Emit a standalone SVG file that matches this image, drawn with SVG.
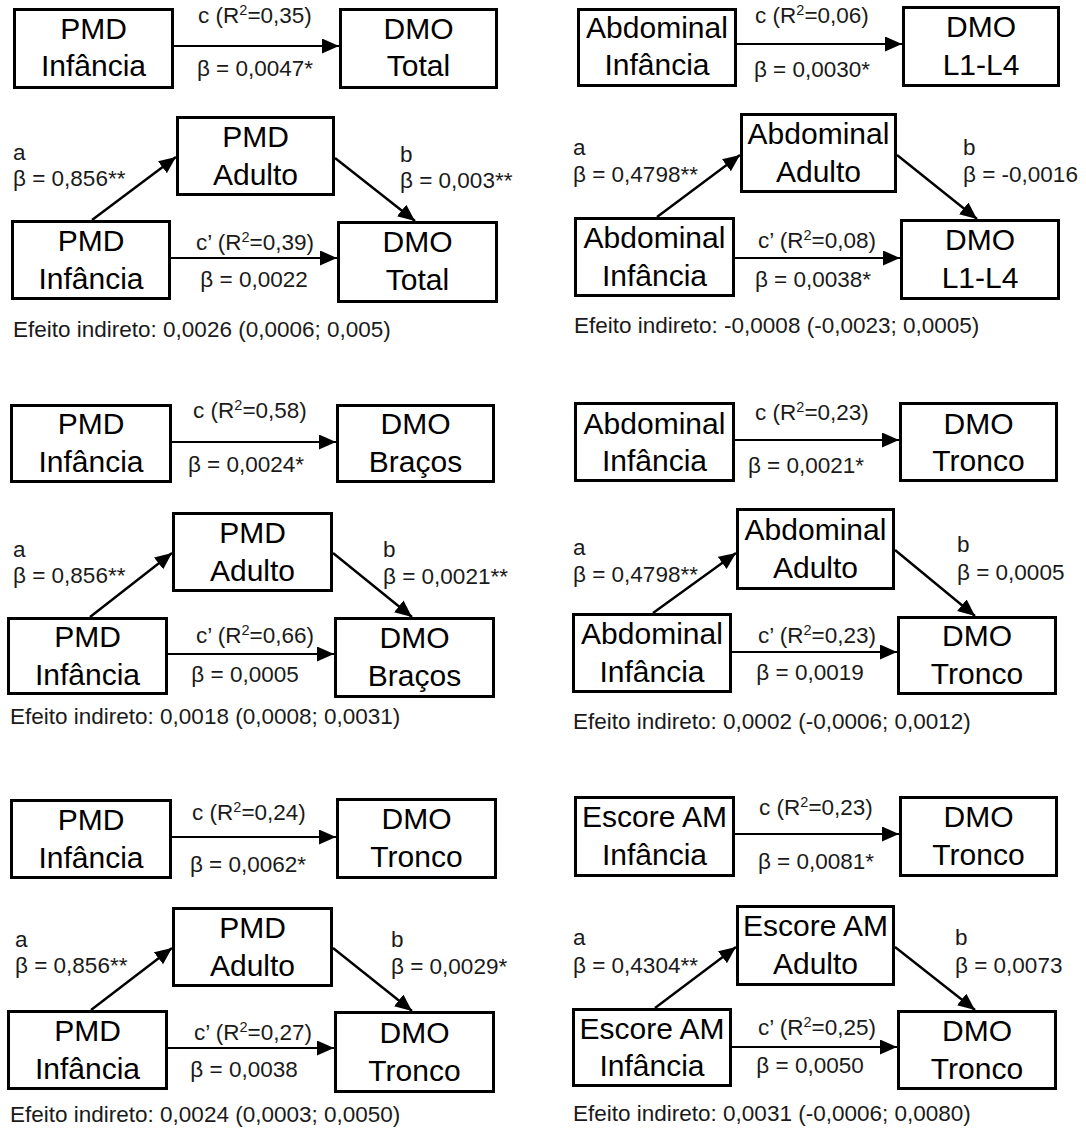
<svg xmlns="http://www.w3.org/2000/svg" width="1086" height="1129" viewBox="0 0 1086 1129">
<style>
.bg{fill:#ffffff}
.box rect{fill:#ffffff;stroke:#000000;stroke-width:3}
.box text{font-family:"Liberation Sans",Arial,sans-serif;font-size:30px;fill:#000000;text-anchor:middle}
.edge{stroke:#000000;stroke-width:2;fill:none;marker-end:url(#ah)}
.diag{stroke-width:2.4}
.lbl{font-family:"Liberation Sans",Arial,sans-serif;font-size:22.5px;fill:#1a1a1a}
.mid{text-anchor:middle}
.sup{font-size:14.5px}
</style>
<defs>
<marker id="ah" markerUnits="userSpaceOnUse" markerWidth="18" markerHeight="16" refX="17" refY="7.5" orient="auto">
<path d="M0,0 L17,7.5 L0,15 z" fill="#000000"/>
</marker>
</defs>
<rect class="bg" x="0" y="0" width="1086" height="1129"/>

<!-- Panel 1 -->
<g id="p1-x-total" class="box"><rect x="14.5" y="9.5" width="158" height="78"/><text x="93.5" y="39">PMD</text><text x="93.5" y="76">Infância</text></g>
<g id="p1-y-total" class="box"><rect x="340.5" y="9.5" width="156" height="78"/><text x="418.5" y="39">DMO</text><text x="418.5" y="76">Total</text></g>
<g id="p1-m" class="box"><rect x="177.5" y="117.5" width="156" height="77"/><text x="255.5" y="147">PMD</text><text x="255.5" y="185">Adulto</text></g>
<g id="p1-x" class="box"><rect x="12.5" y="221.5" width="157" height="77"/><text x="91" y="251">PMD</text><text x="91" y="289">Infância</text></g>
<g id="p1-y" class="box"><rect x="338.5" y="222.5" width="158" height="79"/><text x="417.5" y="252">DMO</text><text x="417.5" y="290">Total</text></g>

<!-- Panel 2 -->
<g id="p2-x-total" class="box"><rect x="578.5" y="9.5" width="157" height="76"/><text x="657" y="38">Abdominal</text><text x="657" y="75">Infância</text></g>
<g id="p2-y-total" class="box"><rect x="903.5" y="7.5" width="155" height="78"/><text x="981" y="37">DMO</text><text x="981" y="75">L1-L4</text></g>
<g id="p2-m" class="box"><rect x="741.5" y="114.5" width="154" height="77"/><text x="818.5" y="144">Abdominal</text><text x="818.5" y="182">Adulto</text></g>
<g id="p2-x" class="box"><rect x="575.5" y="218.5" width="158" height="77"/><text x="654.5" y="248">Abdominal</text><text x="654.5" y="286">Infância</text></g>
<g id="p2-y" class="box"><rect x="901.5" y="220.5" width="157" height="78"/><text x="980" y="250">DMO</text><text x="980" y="288">L1-L4</text></g>

<!-- Panel 3 -->
<g id="p3-x-total" class="box"><rect x="11.5" y="405.5" width="159" height="76"/><text x="91" y="434">PMD</text><text x="91" y="472">Infância</text></g>
<g id="p3-y-total" class="box"><rect x="337.5" y="405.5" width="156" height="76"/><text x="415.5" y="434">DMO</text><text x="415.5" y="472">Braços</text></g>
<g id="p3-m" class="box"><rect x="173.5" y="513.5" width="158" height="77"/><text x="252.5" y="543">PMD</text><text x="252.5" y="581">Adulto</text></g>
<g id="p3-x" class="box"><rect x="8.5" y="618.5" width="158" height="75"/><text x="87.5" y="647">PMD</text><text x="87.5" y="685">Infância</text></g>
<g id="p3-y" class="box"><rect x="335.5" y="618.5" width="158" height="78"/><text x="414.5" y="648">DMO</text><text x="414.5" y="686">Braços</text></g>

<!-- Panel 4 -->
<g id="p4-x-total" class="box"><rect x="575.5" y="403.5" width="158" height="77"/><text x="654.5" y="434">Abdominal</text><text x="654.5" y="471">Infância</text></g>
<g id="p4-y-total" class="box"><rect x="900.5" y="403.5" width="156" height="77"/><text x="978.5" y="434">DMO</text><text x="978.5" y="471">Tronco</text></g>
<g id="p4-m" class="box"><rect x="737.5" y="509.5" width="156" height="79"/><text x="815.5" y="540">Abdominal</text><text x="815.5" y="578">Adulto</text></g>
<g id="p4-x" class="box"><rect x="573.5" y="614.5" width="157" height="77"/><text x="652" y="644">Abdominal</text><text x="652" y="682">Infância</text></g>
<g id="p4-y" class="box"><rect x="898.5" y="617.5" width="157" height="76"/><text x="977" y="646">DMO</text><text x="977" y="684">Tronco</text></g>

<!-- Panel 5 -->
<g id="p5-x-total" class="box"><rect x="11.5" y="800.5" width="159" height="77"/><text x="91" y="830">PMD</text><text x="91" y="868">Infância</text></g>
<g id="p5-y-total" class="box"><rect x="337.5" y="799.5" width="158" height="78"/><text x="416.5" y="829">DMO</text><text x="416.5" y="867">Tronco</text></g>
<g id="p5-m" class="box"><rect x="173.5" y="908.5" width="158" height="77"/><text x="252.5" y="938">PMD</text><text x="252.5" y="976">Adulto</text></g>
<g id="p5-x" class="box"><rect x="8.5" y="1011.5" width="158" height="77"/><text x="87.5" y="1041">PMD</text><text x="87.5" y="1079">Infância</text></g>
<g id="p5-y" class="box"><rect x="335.5" y="1012.5" width="158" height="79"/><text x="414.5" y="1043">DMO</text><text x="414.5" y="1081">Tronco</text></g>

<!-- Panel 6 -->
<g id="p6-x-total" class="box"><rect x="575.5" y="797.5" width="158" height="78"/><text x="654.5" y="827">Escore AM</text><text x="654.5" y="865">Infância</text></g>
<g id="p6-y-total" class="box"><rect x="900.5" y="797.5" width="156" height="78"/><text x="978.5" y="827">DMO</text><text x="978.5" y="865">Tronco</text></g>
<g id="p6-m" class="box"><rect x="737.5" y="906.5" width="156" height="78"/><text x="815.5" y="936">Escore AM</text><text x="815.5" y="974">Adulto</text></g>
<g id="p6-x" class="box"><rect x="573.5" y="1009.5" width="157" height="76"/><text x="652" y="1039">Escore AM</text><text x="652" y="1076">Infância</text></g>
<g id="p6-y" class="box"><rect x="898.5" y="1011.5" width="157" height="77"/><text x="977" y="1041">DMO</text><text x="977" y="1079">Tronco</text></g>

<g id="connectors">
<line class="edge" x1="174" y1="46" x2="339" y2="46"/>
<line class="edge" x1="171" y1="258" x2="337" y2="258"/>
<line class="edge diag" x1="92" y1="220" x2="176" y2="157"/>
<line class="edge diag" x1="335" y1="158" x2="415" y2="221"/>

<line class="edge" x1="737" y1="44" x2="902" y2="44"/>
<line class="edge" x1="735" y1="258" x2="900" y2="258"/>
<line class="edge diag" x1="657" y1="217" x2="740" y2="155"/>
<line class="edge diag" x1="897" y1="155" x2="977" y2="219"/>

<line class="edge" x1="172" y1="442" x2="336" y2="442"/>
<line class="edge" x1="168" y1="654" x2="334" y2="654"/>
<line class="edge diag" x1="90" y1="617" x2="172" y2="553"/>
<line class="edge diag" x1="333" y1="553" x2="412" y2="617"/>

<line class="edge" x1="735" y1="440" x2="899" y2="440"/>
<line class="edge" x1="732" y1="652" x2="897" y2="652"/>
<line class="edge diag" x1="653" y1="613" x2="736" y2="553"/>
<line class="edge diag" x1="895" y1="550" x2="975" y2="616"/>

<line class="edge" x1="172" y1="837" x2="336" y2="837"/>
<line class="edge" x1="168" y1="1048" x2="334" y2="1048"/>
<line class="edge diag" x1="91" y1="1010" x2="172" y2="948"/>
<line class="edge diag" x1="333" y1="948" x2="412" y2="1011"/>

<line class="edge" x1="735" y1="834" x2="899" y2="834"/>
<line class="edge" x1="732" y1="1047" x2="897" y2="1047"/>
<line class="edge diag" x1="655" y1="1008" x2="736" y2="947"/>
<line class="edge diag" x1="895" y1="947" x2="975" y2="1010"/>
</g>

<g id="labels">
<!-- Panel 1 -->
<text class="lbl mid" x="255" y="23">c (R<tspan class="sup" dy="-8">2</tspan><tspan dy="8">=0,35)</tspan></text>
<text class="lbl mid" x="255" y="76">β = 0,0047*</text>
<text class="lbl mid" x="255" y="250">c’ (R<tspan class="sup" dy="-8">2</tspan><tspan dy="8">=0,39)</tspan></text>
<text class="lbl mid" x="254" y="287">β = 0,0022</text>
<text class="lbl" x="13" y="160">a</text>
<text class="lbl" x="13" y="186">β = 0,856**</text>
<text class="lbl" x="400" y="162">b</text>
<text class="lbl" x="400" y="188">β = 0,003**</text>
<text class="lbl" x="13" y="337">Efeito indireto: 0,0026 (0,0006; 0,005)</text>

<!-- Panel 2 -->
<text class="lbl mid" x="812" y="23">c (R<tspan class="sup" dy="-8">2</tspan><tspan dy="8">=0,06)</tspan></text>
<text class="lbl mid" x="812" y="77">β = 0,0030*</text>
<text class="lbl mid" x="817" y="248">c’ (R<tspan class="sup" dy="-8">2</tspan><tspan dy="8">=0,08)</tspan></text>
<text class="lbl mid" x="813" y="287">β = 0,0038*</text>
<text class="lbl" x="573" y="155">a</text>
<text class="lbl" x="573" y="182">β = 0,4798**</text>
<text class="lbl" x="963" y="155">b</text>
<text class="lbl" x="963" y="182">β = -0,0016</text>
<text class="lbl" x="574" y="333">Efeito indireto: -0,0008 (-0,0023; 0,0005)</text>

<!-- Panel 3 -->
<text class="lbl mid" x="250" y="418">c (R<tspan class="sup" dy="-8">2</tspan><tspan dy="8">=0,58)</tspan></text>
<text class="lbl mid" x="246" y="472">β = 0,0024*</text>
<text class="lbl mid" x="255" y="643">c’ (R<tspan class="sup" dy="-8">2</tspan><tspan dy="8">=0,66)</tspan></text>
<text class="lbl mid" x="245" y="682">β = 0,0005</text>
<text class="lbl" x="13" y="557">a</text>
<text class="lbl" x="13" y="583">β = 0,856**</text>
<text class="lbl" x="383" y="557">b</text>
<text class="lbl" x="383" y="584">β = 0,0021**</text>
<text class="lbl" x="10" y="724">Efeito indireto: 0,0018 (0,0008; 0,0031)</text>

<!-- Panel 4 -->
<text class="lbl mid" x="812" y="420">c (R<tspan class="sup" dy="-8">2</tspan><tspan dy="8">=0,23)</tspan></text>
<text class="lbl mid" x="806" y="473">β = 0,0021*</text>
<text class="lbl mid" x="817" y="643">c’ (R<tspan class="sup" dy="-8">2</tspan><tspan dy="8">=0,23)</tspan></text>
<text class="lbl mid" x="810" y="680">β = 0,0019</text>
<text class="lbl" x="573" y="555">a</text>
<text class="lbl" x="573" y="582">β = 0,4798**</text>
<text class="lbl" x="957" y="552">b</text>
<text class="lbl" x="957" y="580">β = 0,0005</text>
<text class="lbl" x="573" y="729">Efeito indireto: 0,0002 (-0,0006; 0,0012)</text>

<!-- Panel 5 -->
<text class="lbl mid" x="249" y="820">c (R<tspan class="sup" dy="-8">2</tspan><tspan dy="8">=0,24)</tspan></text>
<text class="lbl mid" x="248" y="872">β = 0,0062*</text>
<text class="lbl mid" x="253" y="1040">c’ (R<tspan class="sup" dy="-8">2</tspan><tspan dy="8">=0,27)</tspan></text>
<text class="lbl mid" x="244" y="1077">β = 0,0038</text>
<text class="lbl" x="15" y="947">a</text>
<text class="lbl" x="15" y="973">β = 0,856**</text>
<text class="lbl" x="391" y="947">b</text>
<text class="lbl" x="391" y="974">β = 0,0029*</text>
<text class="lbl" x="10" y="1122">Efeito indireto: 0,0024 (0,0003; 0,0050)</text>

<!-- Panel 6 -->
<text class="lbl mid" x="816" y="815">c (R<tspan class="sup" dy="-8">2</tspan><tspan dy="8">=0,23)</tspan></text>
<text class="lbl mid" x="816" y="869">β = 0,0081*</text>
<text class="lbl mid" x="817" y="1035">c’ (R<tspan class="sup" dy="-8">2</tspan><tspan dy="8">=0,25)</tspan></text>
<text class="lbl mid" x="810" y="1073">β = 0,0050</text>
<text class="lbl" x="573" y="945">a</text>
<text class="lbl" x="573" y="973">β = 0,4304**</text>
<text class="lbl" x="955" y="945">b</text>
<text class="lbl" x="955" y="973">β = 0,0073</text>
<text class="lbl" x="573" y="1121">Efeito indireto: 0,0031 (-0,0006; 0,0080)</text>
</g>
</svg>
